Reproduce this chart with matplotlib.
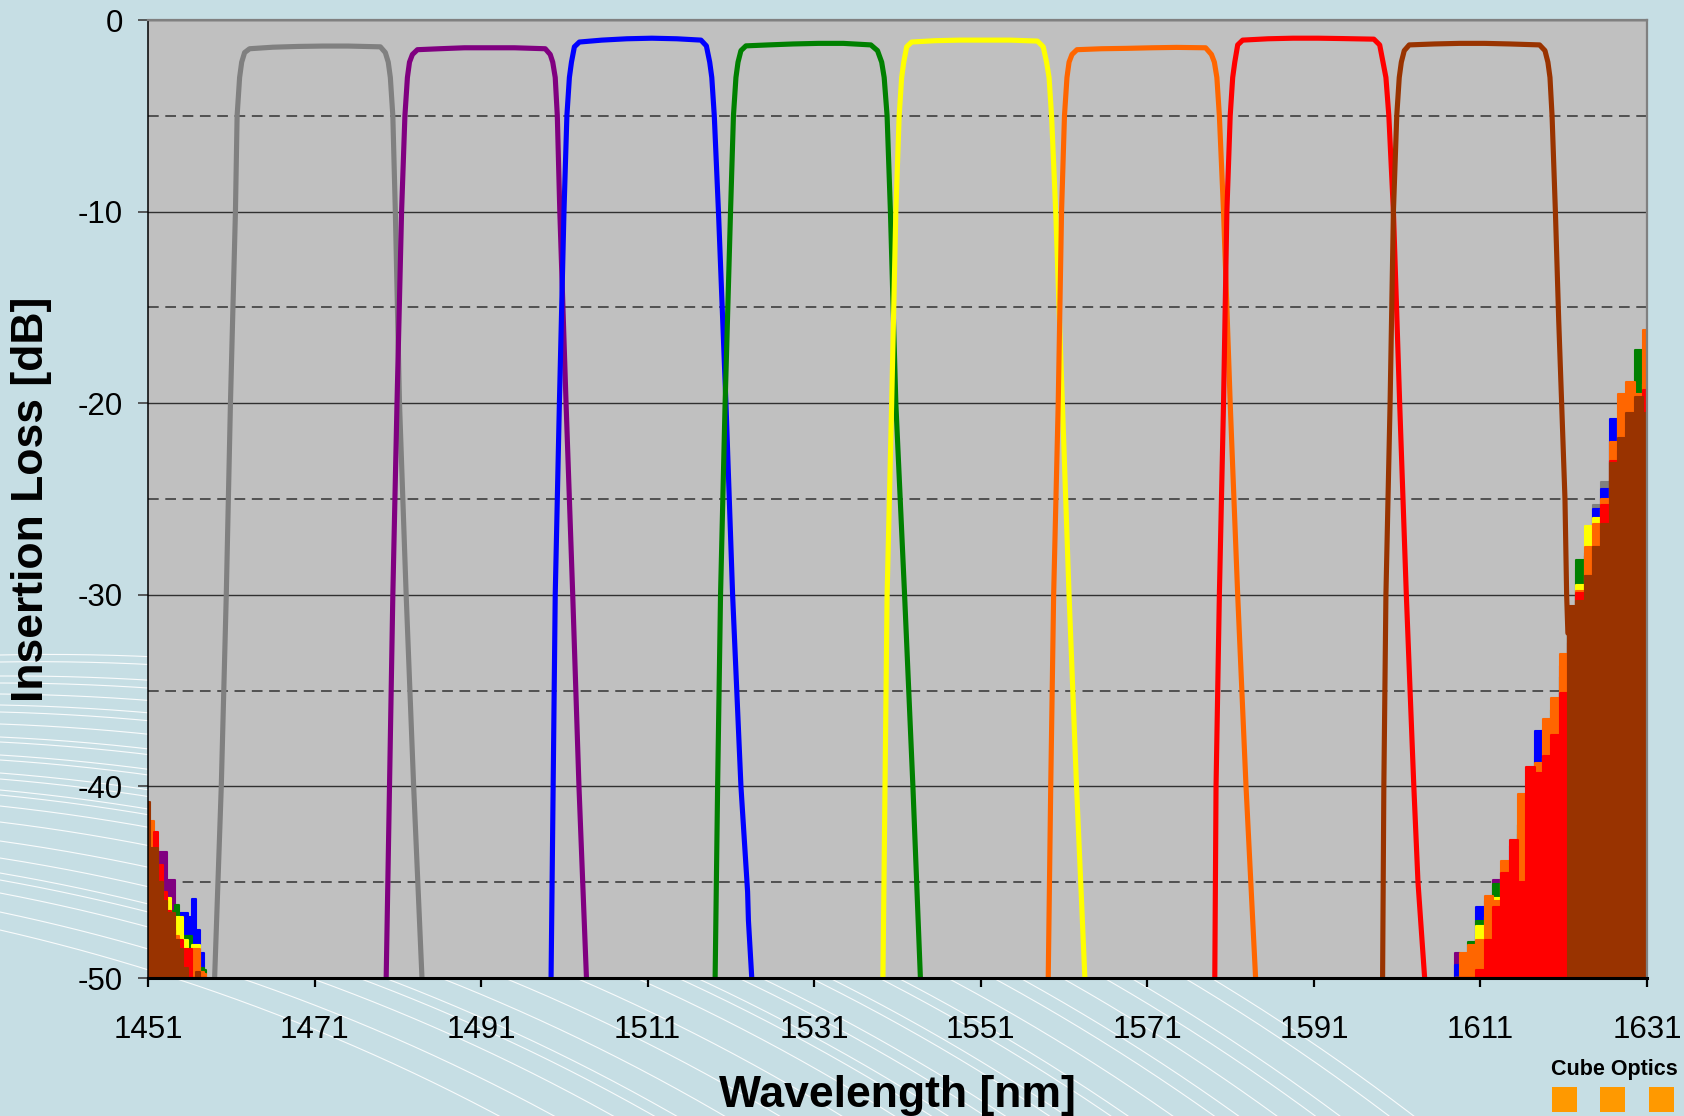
import numpy as np
import matplotlib.pyplot as plt
from matplotlib.patches import Rectangle

plt.rcParams['font.family'] = ['Liberation Sans', 'DejaVu Sans']
plt.rcParams['axes.unicode_minus'] = False

# channel colours, in drawing order (later ones lie on top)
colors = ['#808080', '#800080', '#0000FF', '#008000', '#FFFF00', '#FF6600', '#FF0000', '#993300']

xticks = [1451, 1471, 1491, 1511, 1531, 1551, 1571, 1591, 1611, 1631]
yticks = [0, -10, -20, -30, -40, -50]
yticks_dashed = [-5, -15, -25, -35, -45]

# filter traces (wavelength nm, insertion loss dB)
gray_wl = [1459.0, 1459.8, 1460.4, 1460.9, 1461.5, 1461.7, 1462.0, 1462.25, 1462.6, 1463.2, 1466.0, 1469.0,
           1472.0, 1475.0, 1478.9, 1479.5, 1479.85, 1480.1, 1480.4, 1480.7, 1481.2, 1482.0, 1482.9, 1483.9]
gray_db = [-50, -40, -30, -20, -10, -5, -3, -2.2, -1.7, -1.5, -1.42, -1.38,
           -1.36, -1.36, -1.4, -1.7, -2.2, -3, -5, -10, -20, -30, -40, -50]

purple_wl = [1479.6, 1480.0, 1480.4, 1480.9, 1481.45, 1481.85, 1482.15, 1482.4, 1482.75, 1483.35, 1486.0, 1489.0,
             1492.0, 1495.0, 1498.7, 1499.3, 1499.6, 1499.9, 1500.15, 1500.45, 1501.2, 1502.0, 1502.75, 1503.65]
purple_db = [-50, -40, -30, -20, -10, -5, -3, -2.2, -1.8, -1.55, -1.5, -1.45,
             -1.45, -1.45, -1.5, -1.8, -2.2, -3, -5, -10, -20, -30, -40, -50]

blue_wl = [1499.4, 1499.65, 1499.9, 1500.4, 1500.95, 1501.3, 1501.6, 1501.85, 1502.2, 1502.8, 1505.5, 1508.5, 1511.5,
           1514.5, 1517.4, 1518.05, 1518.45, 1518.7, 1519.0, 1519.5, 1520.4, 1521.2, 1522.2, 1523.0, 1523.1, 1523.5]
blue_db = [-50, -40, -30, -20, -10, -5, -3, -2.2, -1.4, -1.15, -1.05, -0.98, -0.95,
           -0.98, -1.05, -1.35, -2.2, -3, -5, -10, -20, -30, -40, -45.5, -47, -50]

green_wl = [1519.1, 1519.4, 1519.75, 1520.3, 1520.95, 1521.3, 1521.6, 1521.85, 1522.2, 1522.8, 1525.5, 1528.5,
            1531.5, 1534.5, 1537.8, 1538.6, 1539.1, 1539.4, 1539.75, 1540.15, 1540.8, 1541.85, 1542.85, 1543.75]
green_db = [-50, -40, -30, -20, -10, -5, -3, -2.2, -1.6, -1.35, -1.3, -1.25,
            -1.22, -1.22, -1.3, -1.6, -2.2, -3, -5, -10, -20, -30, -40, -50]

yellow_wl = [1539.25, 1539.5, 1539.75, 1540.3, 1540.8, 1541.2, 1541.5, 1541.75, 1542.1, 1542.7, 1545.5, 1548.5,
             1551.5, 1554.5, 1557.8, 1558.5, 1558.9, 1559.2, 1559.5, 1560.0, 1560.8, 1561.6, 1562.5, 1563.5]
yellow_db = [-50, -40, -30, -20, -10, -5, -3, -2.2, -1.4, -1.15, -1.08, -1.05,
             -1.05, -1.05, -1.1, -1.4, -2.2, -3, -5, -10, -20, -30, -40, -50]

orange_wl = [1559.1, 1559.4, 1559.75, 1560.3, 1560.7, 1561.05, 1561.35, 1561.6, 1561.95, 1562.55, 1565.5, 1568.5,
             1571.5, 1574.5, 1578.0, 1578.7, 1579.05, 1579.35, 1579.65, 1580.15, 1580.95, 1581.85, 1582.85, 1584.0]
orange_db = [-50, -40, -30, -20, -10, -5, -3, -2.2, -1.8, -1.55, -1.5, -1.48,
             -1.45, -1.43, -1.45, -1.8, -2.2, -3, -5, -10, -20, -30, -40, -50]

red_wl = [1579.1, 1579.25, 1579.65, 1580.15, 1580.55, 1580.95, 1581.25, 1581.5, 1581.85, 1582.45, 1585.5, 1588.5,
          1591.5, 1594.5, 1598.2, 1598.9, 1599.3, 1599.65, 1600.0, 1600.55, 1601.3, 1602.1, 1603.0, 1603.5, 1604.3]
red_db = [-50, -40, -30, -20, -10, -5, -3, -2.2, -1.3, -1.05, -0.98, -0.95,
          -0.95, -0.97, -1.0, -1.3, -2.2, -3, -5, -10, -20, -30, -40, -45, -50]

brown_wl = [1599.25, 1599.4, 1599.65, 1600.15, 1600.55, 1600.95, 1601.25, 1601.5, 1601.85, 1602.45, 1605.5, 1608.5,
            1611.5, 1614.5, 1618.1, 1618.75, 1619.1, 1619.35, 1619.6, 1620.0, 1620.4, 1620.75, 1621.15, 1621.35, 1621.5]
brown_db = [-50, -40, -30, -20, -10, -5, -3, -2.2, -1.6, -1.3, -1.25, -1.22,
            -1.22, -1.25, -1.3, -1.6, -2.2, -3, -5, -10, -15.7, -20, -25, -30, -32]

# noise floor peaks at the short wavelength end
noise_l_wl = [1451.0, 1451.5, 1452.0, 1452.5, 1453.0, 1453.5, 1454.0, 1454.5,
              1455.0, 1455.5, 1456.0, 1456.5, 1457.0, 1457.5, 1458.0]
gray_nl = [-46, -46, -46, -46, -46.5, -47, -47, -47.5, -48, -48.5, -49, -49.5, -50, -50, -50]
purple_nl = [-45, -45, -45, -43.4, -43.4, -44.9, -44.9, -47, -48, -48.5, -49, -49.5, -50, -50, -50]
blue_nl = [-47, -46, -46, -46, -47, -47, -47.5, -47, -46.6, -46.6, -46.8, -45.9, -47.5, -48.7, -50]
green_nl = [-47, -46, -46, -47, -47, -46.5, -46.5, -46.2, -47, -47.8, -47.8, -49, -49.5, -49.5, -49.6]
yellow_nl = [-46, -45, -45.5, -46, -45.8, -45.8, -47, -46.8, -46.8, -48, -49, -48.3, -48.3, -50, -50]
orange_nl = [-45, -41.8, -43, -45, -46, -46.5, -47.5, -47.8, -48.5, -49, -49, -48.5, -48.5, -49.7, -49.8]
red_nl = [-44, -44, -42.4, -44.1, -45.5, -46.5, -47.5, -48, -48, -48.5, -48.5, -50, -50, -50, -50]
brown_nl = [-40.8, -43.2, -43.2, -45, -46, -46.6, -46.6, -48, -48.5, -49.5, -50, -50, -49.7, -50, -50]

# noise floor peaks at the long wavelength end
noise_r_wl = [1608, 1609, 1610, 1611, 1612, 1613, 1614, 1615, 1616, 1617, 1618, 1619,
              1620, 1621, 1622, 1623, 1624, 1625, 1626, 1627, 1628, 1629, 1630, 1631]
gray_nr = [-50, -49.2, -50, -48.5, -48, -47.5, -46, -45, -42, -41.5, -38.4, -39,
           -37.5, -35.5, -31.5, -28.6, -28, -25.3, -24.1, -22, -21.5, -19.5, -18.4, -18.5]
purple_nr = [-48.7, -50, -49.5, -48, -46.0, -44.9, -45.5, -45, -43, -42, -40, -38.5,
             -37, -33.7, -32, -31, -29, -27, -26, -23, -22.5, -21, -20, -19.5]
blue_nr = [-49.3, -49.6, -48.8, -46.3, -48, -46, -44.5, -43.1, -42.5, -41, -37.1, -37.0,
           -36.8, -35, -31, -30, -27.8, -25.5, -24.5, -20.8, -21.5, -20.5, -20, -18.5]
green_nr = [-50, -49.5, -48.1, -47, -47.5, -45.1, -45, -44, -42, -41.5, -39, -38,
            -36, -34.3, -31, -28.2, -28, -26.5, -25.5, -24, -22, -19.7, -17.2, -17.5]
yellow_nr = [-50, -50, -48.7, -47.3, -46.8, -45.8, -44.5, -44, -40.8, -40.5, -38.9, -38.5,
             -37, -35, -31.5, -29.5, -26.4, -26, -25.5, -23, -20.5, -21, -20, -19]
orange_nr = [-50, -48.7, -48.3, -48, -45.7, -46, -43.9, -44.5, -40.4, -41, -38.8, -36.5,
             -35.4, -33.1, -31, -29.8, -27.5, -26.3, -25, -22, -19.5, -18.9, -19.5, -16.2]
red_nr = [-50, -50, -50, -49.6, -48, -46.3, -44.5, -42.8, -45, -39, -39.3, -38.4,
          -37.3, -35.1, -32.5, -29.9, -29, -27.5, -25.3, -23, -22.5, -21.5, -20.5, -19.3]
brown_nr = [-50, -50, -50, -50, -50, -50, -50, -50, -50, -50, -50, -50,
            -50, -50, -30.6, -30.3, -29, -27.5, -26.3, -23.1, -21.8, -20.5, -19.7, -20.5]

traces = [(gray_wl, gray_db), (purple_wl, purple_db), (blue_wl, blue_db), (green_wl, green_db),
          (yellow_wl, yellow_db), (orange_wl, orange_db), (red_wl, red_db), (brown_wl, brown_db)]
noise_left = [gray_nl, purple_nl, blue_nl, green_nl, yellow_nl, orange_nl, red_nl, brown_nl]
noise_right = [gray_nr, purple_nr, blue_nr, green_nr, yellow_nr, orange_nr, red_nr, brown_nr]

W, H = 1684, 1116
bgcol = '#C6DEE4'
fig = plt.figure(figsize=(W / 100, H / 100), dpi=100, facecolor=bgcol)

# background swooshes and logo, in pixel units
bg = fig.add_axes([0, 0, 1, 1], zorder=-1)
bg.set_xlim(0, W)
bg.set_ylim(H, 0)
bg.axis('off')
arc_y0 = [655, 662, 676, 683, 694, 705, 712, 724, 737, 742, 755, 760, 773,
          779, 790, 795, 806, 822, 841, 858, 873, 880, 893, 912, 930]
cy = 2900
xs = np.linspace(0, W, 600)
for y0 in arc_y0:
    cx = 50 - (y0 - 655) / (930 - 655) * 500
    r = np.hypot(cx, cy - y0)
    d = r ** 2 - (xs - cx) ** 2
    ok = d > 0
    bg.plot(xs[ok], cy - np.sqrt(d[ok]), color='white', lw=0.8, alpha=0.9)
for sx in [1552, 1600, 1649]:
    bg.add_patch(Rectangle((sx, 1087), 25, 25, color='#FF9900', lw=0))
fig.text(1551 / W, 1 - 1069 / H, 'Cube Optics', fontsize=15.5, fontweight='bold',
         ha='left', va='center')

ax = fig.add_axes([148 / W, 1 - 978 / H, 1499 / W, 958 / H])
ax.set_facecolor('#C0C0C0')

for i in range(len(colors)):
    wl, db = traces[i]
    ax.plot(wl, db, color=colors[i], lw=3.7, zorder=3 + i,
            solid_capstyle='round', solid_joinstyle='round')
    ax.fill_between(noise_l_wl, -50, noise_left[i], step='mid', facecolor=colors[i],
                    edgecolor=colors[i], lw=1.5, zorder=3 + i)
    ax.fill_between(noise_r_wl, -50, noise_right[i], step='mid', facecolor=colors[i],
                    edgecolor=colors[i], lw=1.5, zorder=3 + i)

ax.set_xlim(1451, 1631)
ax.set_ylim(-50, 0)
ax.set_xticks(xticks)
ax.set_yticks(yticks)
ax.set_yticks(yticks_dashed, minor=True)
ax.set_axisbelow(True)
ax.grid(which='major', axis='y', color='#303030', lw=1.0)
ax.grid(which='minor', axis='y', color='#505050', lw=1.4, linestyle=(0, (5.5, 3.4)))
ax.grid(which='both', axis='x', visible=False)

ax.tick_params(axis='x', direction='out', length=6.5, width=1.6, color='black', labelsize=22.5, pad=20)
ax.tick_params(axis='y', which='major', direction='out', length=7, width=1.2, color='#404040',
               labelsize=22.5, pad=11)
ax.tick_params(axis='y', which='minor', length=0)

for s in ['top', 'right']:
    ax.spines[s].set_color('#808080')
    ax.spines[s].set_linewidth(1.6)
ax.spines['left'].set_color('black')
ax.spines['left'].set_linewidth(1.1)
ax.spines['bottom'].set_color('black')
ax.spines['bottom'].set_linewidth(2.2)
for s in ax.spines.values():
    s.set_zorder(30)

ax.set_xlabel('Wavelength [nm]', fontsize=32, fontweight='bold')
ax.xaxis.label.set_va('center')
ax.xaxis.set_label_coords(0.5, -0.123)
ax.set_ylabel('Insertion Loss [dB]', fontsize=32, fontweight='bold')
ax.yaxis.label.set_va('center')
ax.yaxis.set_label_coords(-0.0774, 0.5)

fig.savefig('out.png', dpi=100, facecolor=bgcol)
